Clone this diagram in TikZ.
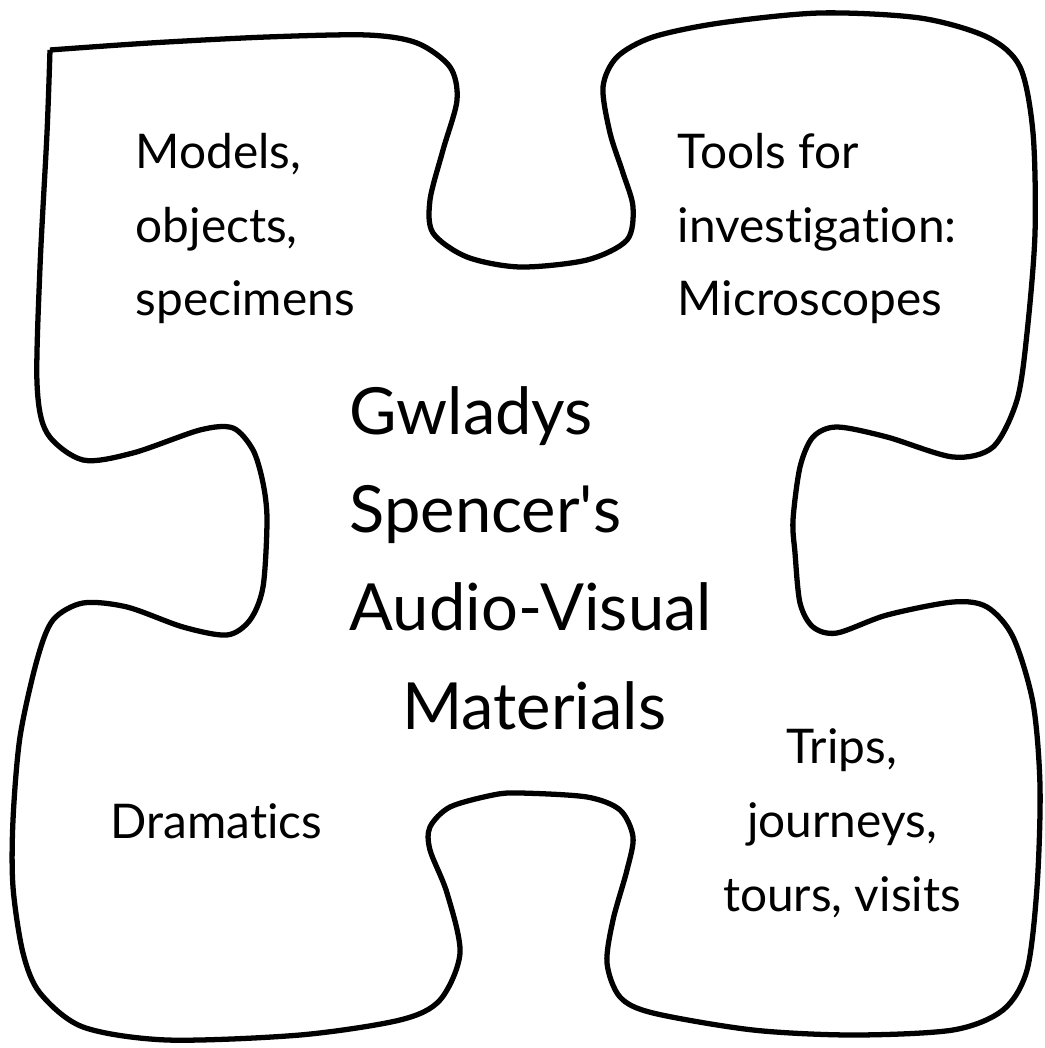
\documentclass[tikz,border=0pt]{standalone}
\usepackage{fontspec}
\setmainfont{Lato}[Ligatures=NoCommon]
\usepackage{tikz}
\tikzset{
  outline/.style={draw=black,line width=1.5pt,line join=round},
  cornertext/.style={inner sep=0pt,font=\fontsize{13.6}{21}\selectfont},
  hubtext/.style={inner sep=0pt,align=left,font=\fontsize{18.5}{27.9}\selectfont},
}

\begin{document}
\begin{tikzpicture}[x=0.1mm,y=-0.1mm]
\useasboundingbox (0,0) rectangle (1044,1048);
% the four joined puzzle pieces
\draw[outline] plot[smooth,tension=0.5] coordinates {
  (50,50) (150,43) (267,37) (367,35) (417,43) (450,67) (457,100) (443,150) (430,200) (433,233) (467,257) (520,267)
  (587,260) (627,240) (633,207) (623,173) (610,133) (603,87) (617,57) (653,37) (720,23) (820,13) (920,18) (987,37) (1020,67) (1033,133) (1035,233) (1027,333) (1017,400) (993,447) (953,457) (887,437) (837,427) (813,437) (800,467) (793,520)
  (795,553) (800,603) (813,627) (837,633) (887,615) (953,602) (987,607) (1013,637) (1033,703) (1040,787) (1037,887) (1027,970) (1003,1010) (953,1030) (853,1035) (753,1030) (653,1013) (620,997) (607,963) (613,920) (627,870) (633,837) (620,810) (587,797) (520,793)
  (493,795) (450,807) (430,827) (430,850) (447,893) (460,953) (440,1000) (400,1020) (300,1035) (167,1040) (83,1027) (40,993) (23,953) (13,887) (13,820) (20,737) (37,660) (53,620) (83,603) (127,607) (183,627) (227,635) (250,620) (263,587) (267,520)
  (263,483) (253,450) (233,428) (200,430) (133,453) (83,460) (47,433) (37,383) (40,267) (47,133) (50,50)};
% texts (anchored at the baseline of their last line)
\node[cornertext,align=left,anchor=base west] (models) at (135,316) {Models,\\objects,\\specimens};
\node[cornertext,align=left,anchor=base west] (tools) at (677,316) {Tools for\\investigation:\\Microscopes};
\node[cornertext,anchor=base west] (drama) at (110,838) {Dramatics};
\node[cornertext,align=center,anchor=base] (trips) at (842,911) {Trips,\\journeys,\\tours, visits};
\node[hubtext,anchor=base west] (hub) at (349,729) {Gwladys\\Spencer\textquotesingle s\\Audio-Visual\\\hspace*{15pt}Materials};
\end{tikzpicture}
\end{document}
